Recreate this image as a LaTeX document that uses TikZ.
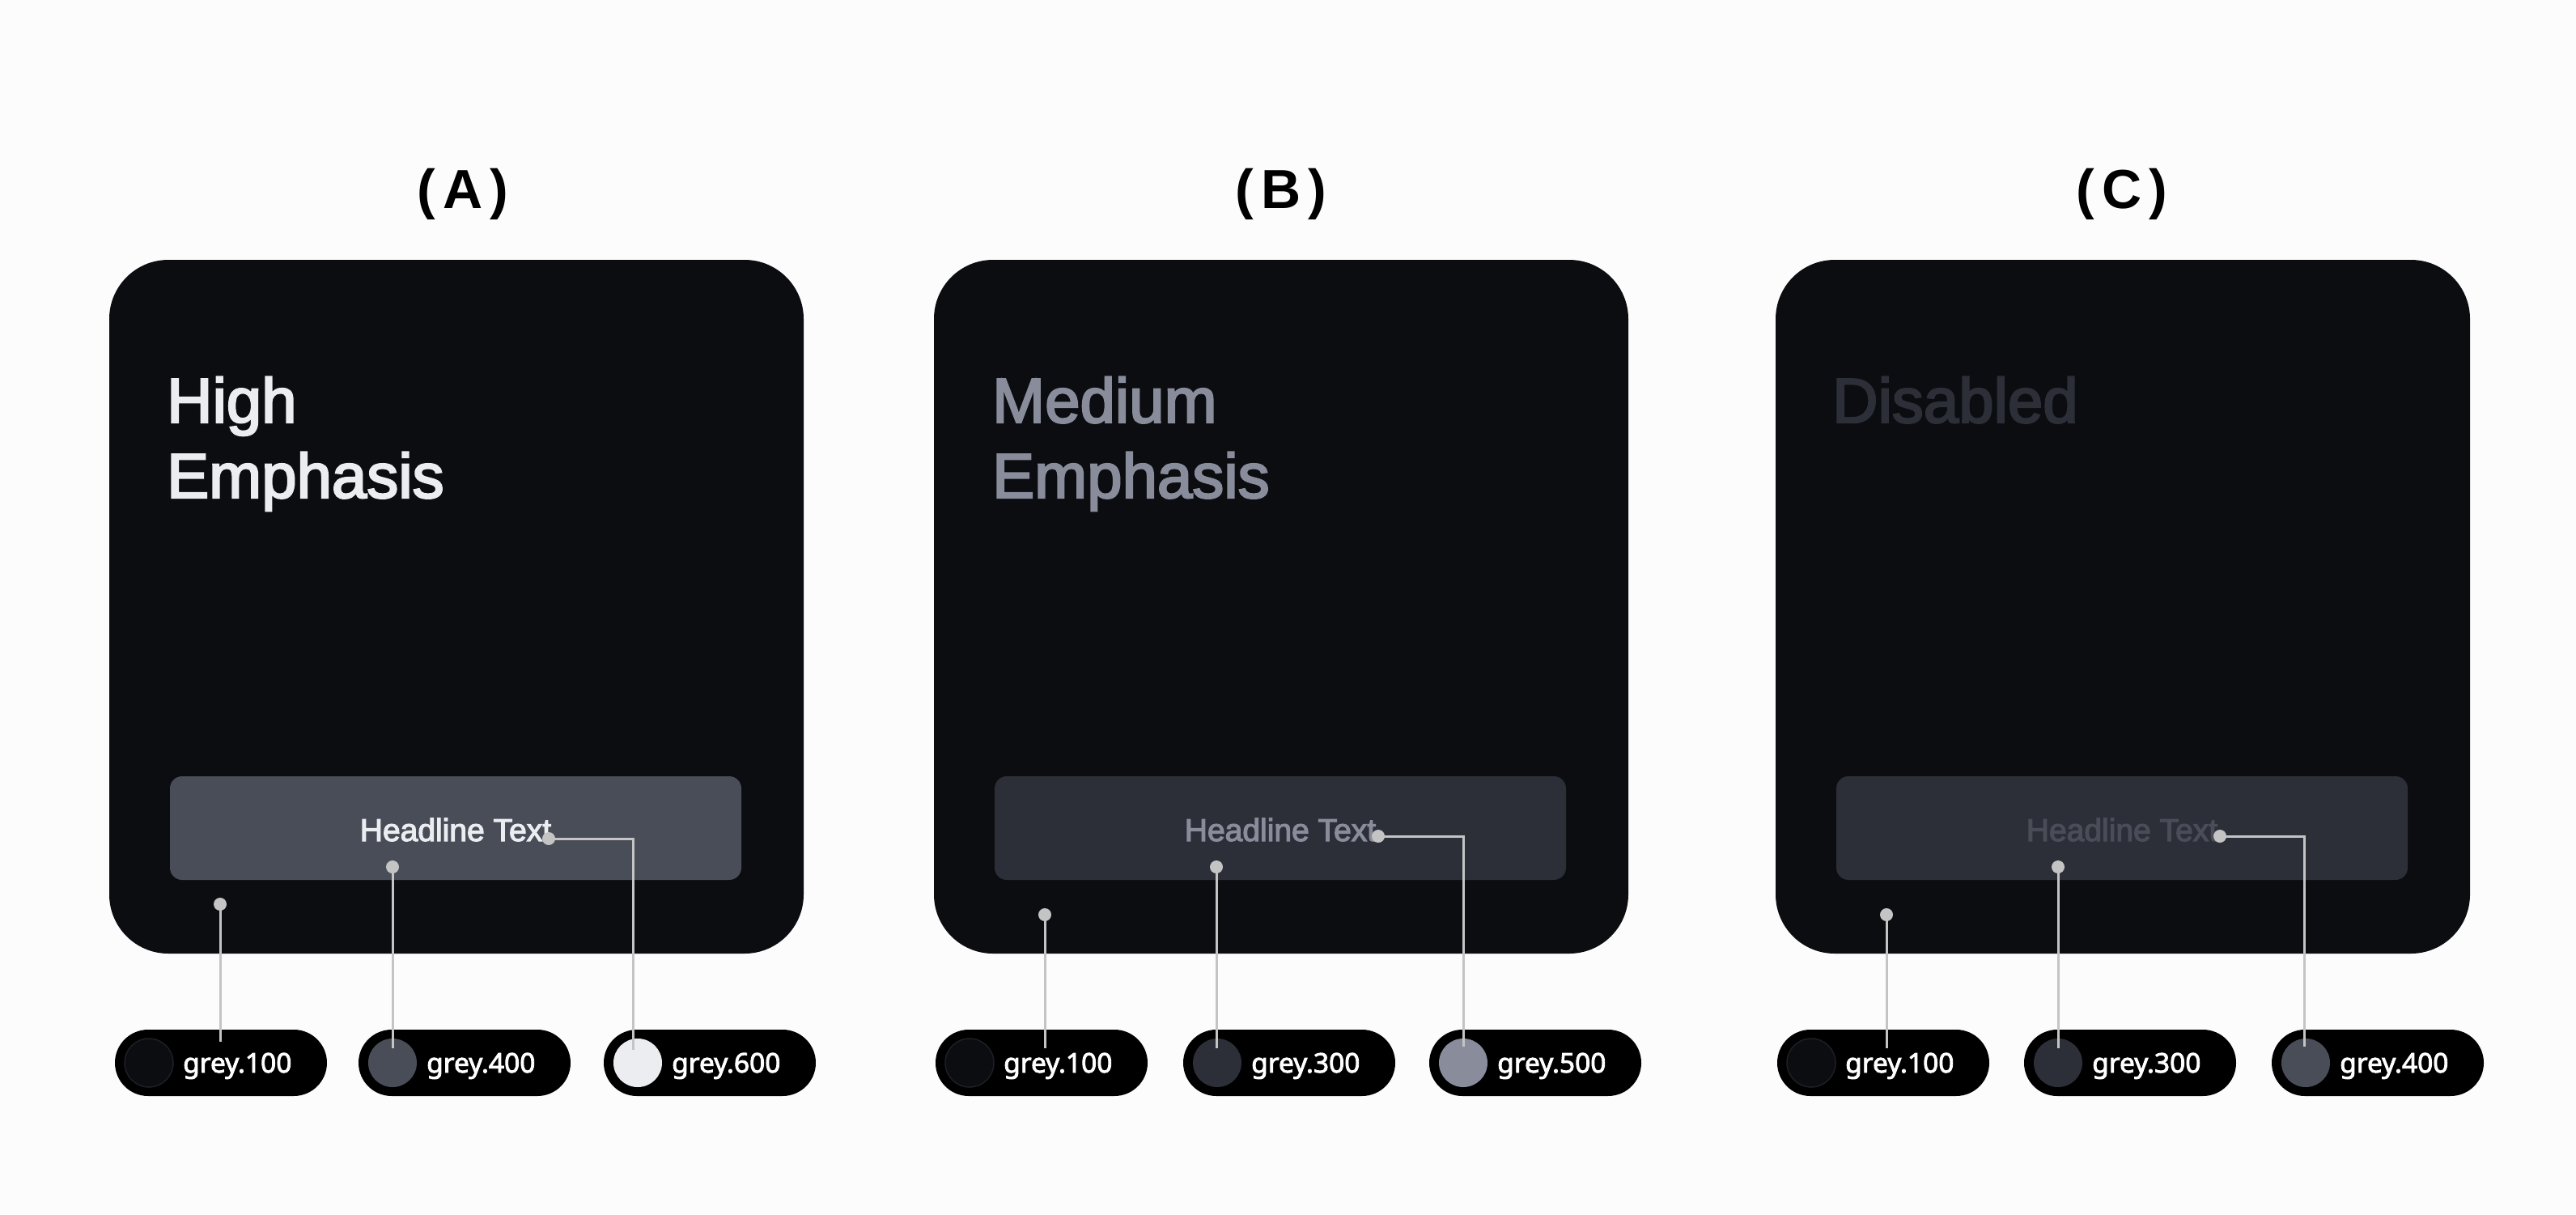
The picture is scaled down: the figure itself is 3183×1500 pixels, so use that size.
\documentclass[tikz,border=0pt]{standalone}
\usepackage{fontspec}
\setmainfont{Liberation Sans}
\newfontfamily\medfont[FakeBold=3]{Liberation Sans}
\newfontfamily\pillfont[FakeBold=2.5]{Noto Sans}
\definecolor{bgc}{HTML}{FCFCFC}
\definecolor{grey100}{HTML}{0C0D11}
\definecolor{grey300}{HTML}{2C2F38}
\definecolor{grey400}{HTML}{494D58}
\definecolor{grey500}{HTML}{898C9A}
\definecolor{grey600}{HTML}{ECEDF1}
\definecolor{linec}{HTML}{C4C4C4}
\definecolor{swborder}{HTML}{1E1F25}
\begin{document}
\begin{tikzpicture}[x=1pt,y=-1pt,
  card/.style={rectangle,fill=grey100,minimum width=858pt,minimum height=857pt,rounded corners=73pt,inner sep=0pt},
  hbox/.style={rectangle,minimum width=706pt,minimum height=128pt,rounded corners=15pt,inner sep=0pt},
  htext/.style={anchor=base,inner sep=0pt,font=\medfont\fontsize{39}{47}\selectfont},
  bigtext/.style={anchor=base west,inner sep=0pt,font=\medfont\fontsize{78}{93}\selectfont},
  title/.style={anchor=base,inner sep=0pt,text=black,font=\fontsize{68}{80}\selectfont\bfseries},
  pill/.style={rectangle,fill=black,minimum width=262pt,minimum height=82pt,rounded corners=41pt,inner sep=0pt},
  swatch/.style={circle,minimum size=60pt,inner sep=0pt},
  plabel/.style={anchor=base west,inner sep=0pt,text=white,font=\pillfont\fontsize{33.5}{40}\selectfont},
  dotn/.style={circle,fill=linec,minimum size=16pt,inner sep=0pt},
  conn/.style={draw=linec,line width=3pt}
]
\fill[bgc] (0,0) rectangle (3183,1500);
\useasboundingbox (0,0) rectangle (3183,1500);

% ---------- titles ----------
\node[title] (tA) at (572,257) {(\kern9pt A\kern9pt)};
\node[title] (tB) at (1583,257) {(\kern9pt B\kern9pt)};
\node[title] (tC) at (2622,257) {(\kern9pt C\kern9pt)};

% ---------- cards ----------
\node[card] (A) at (564,749.5) {};
\node[card] (B) at (1583,749.5) {};
\node[card] (C) at (2623,749.5) {};

% big texts
\node[bigtext,text=grey600] (A1) at (206,522) {High};
\node[bigtext,text=grey600] (A2) at (206,615) {Emphasis};
\node[bigtext,text=grey500] (B1) at (1226,522) {Medium};
\node[bigtext,text=grey500] (B2) at (1226,615) {Emphasis};
\node[bigtext,text=grey300] (C1) at (2264,522) {Disabled};

% headline boxes
\node[hbox,fill=grey400] (Ab) at (563,1023) {};
\node[hbox,fill=grey300] (Bb) at (1582,1023) {};
\node[hbox,fill=grey300] (Cb) at (2622,1023) {};
\node[htext,text=grey600] (Ah) at (563,1039) {Headline Text};
\node[htext,text=grey500] (Bh) at (1582,1039) {Headline Text};
\node[htext,text=grey400] (Ch) at (2622,1039) {Headline Text};

% ---------- pills ----------
% A
\node[pill] (Ap1) at (273,1313) {};
\node[swatch,fill=grey100,draw=swborder,line width=1.5pt] (As1) at (184,1313) {};
\node[plabel] (Al1) at (226,1325) {grey.100};
\node[pill] (Ap2) at (574,1313) {};
\node[swatch,fill=grey400] (As2) at (485,1313) {};
\node[plabel] (Al2) at (527,1325) {grey.400};
\node[pill] (Ap3) at (877,1313) {};
\node[swatch,fill=grey600] (As3) at (788,1313) {};
\node[plabel] (Al3) at (830,1325) {grey.600};
% B
\node[pill] (Bp1) at (1287,1313) {};
\node[swatch,fill=grey100,draw=swborder,line width=1.5pt] (Bs1) at (1198,1313) {};
\node[plabel] (Bl1) at (1240,1325) {grey.100};
\node[pill] (Bp2) at (1593,1313) {};
\node[swatch,fill=grey300] (Bs2) at (1504,1313) {};
\node[plabel] (Bl2) at (1546,1325) {grey.300};
\node[pill] (Bp3) at (1897,1313) {};
\node[swatch,fill=grey500] (Bs3) at (1808,1313) {};
\node[plabel] (Bl3) at (1850,1325) {grey.500};
% C
\node[pill] (Cp1) at (2327,1313) {};
\node[swatch,fill=grey100,draw=swborder,line width=1.5pt] (Cs1) at (2238,1313) {};
\node[plabel] (Cl1) at (2280,1325) {grey.100};
\node[pill] (Cp2) at (2632,1313) {};
\node[swatch,fill=grey300] (Cs2) at (2543,1313) {};
\node[plabel] (Cl2) at (2585,1325) {grey.300};
\node[pill] (Cp3) at (2938,1313) {};
\node[swatch,fill=grey400] (Cs3) at (2849,1313) {};
\node[plabel] (Cl3) at (2891,1325) {grey.400};

% ---------- connector ends ----------
\coordinate (Ae1) at (272,1287);
\coordinate (Ae2) at (485,1295);
\coordinate (Ae3) at (782,1297);
\coordinate (Be1) at (1291,1295);
\coordinate (Be2) at (1503,1295);
\coordinate (Be3) at (1808,1293);
\coordinate (Ce1) at (2331,1295);
\coordinate (Ce2) at (2543,1295);
\coordinate (Ce3) at (2847,1293);

% ---------- dots ----------
\node[dotn] (Ad1) at (272,1117) {};
\node[dotn] (Ad2) at (485,1071) {};
\node[dotn] (Ad3) at (678,1036) {};
\node[dotn] (Bd1) at (1291,1130) {};
\node[dotn] (Bd2) at (1503,1071) {};
\node[dotn] (Bd3) at (1703,1033) {};
\node[dotn] (Cd1) at (2331,1130) {};
\node[dotn] (Cd2) at (2543,1071) {};
\node[dotn] (Cd3) at (2743,1033) {};

% ---------- connectors ----------
\draw[conn] (Ad1.center) -- (Ae1);
\draw[conn] (Ad2.center) -- (Ae2);
\draw[conn] (Ad3.center) -| (Ae3);
\draw[conn] (Bd1.center) -- (Be1);
\draw[conn] (Bd2.center) -- (Be2);
\draw[conn] (Bd3.center) -| (Be3);
\draw[conn] (Cd1.center) -- (Ce1);
\draw[conn] (Cd2.center) -- (Ce2);
\draw[conn] (Cd3.center) -| (Ce3);
\end{tikzpicture}
\end{document}
